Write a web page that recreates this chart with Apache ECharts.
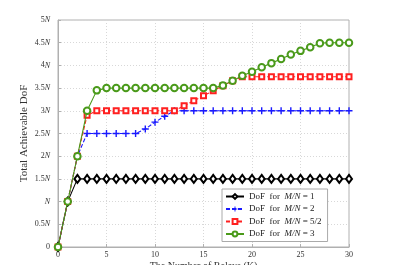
<!DOCTYPE html>
<html><head><meta charset="utf-8">
<script src="https://cdn.jsdelivr.net/npm/echarts@6/dist/echarts.min.js"></script>
<style>html,body{margin:0;padding:0;background:#fff}#c{width:393px;height:265px}</style>
</head><body><div id="c"></div>
<script>
const xValues = [0,1,2,3,4,5,6,7,8,9,10,11,12,13,14,15,16,17,18,19,20,21,22,23,24,25,26,27,28,29,30];
const dof1  = [0,1,1.5,1.5,1.5,1.5,1.5,1.5,1.5,1.5,1.5,1.5,1.5,1.5,1.5,1.5,1.5,1.5,1.5,1.5,1.5,1.5,1.5,1.5,1.5,1.5,1.5,1.5,1.5,1.5,1.5];
const dof2  = [0,1,2,2.5,2.5,2.5,2.5,2.5,2.5,2.6,2.75,2.88,3,3,3,3,3,3,3,3,3,3,3,3,3,3,3,3,3,3,3];
const dof52 = [0,1,2,2.9,3,3,3,3,3,3,3,3,3,3.11,3.22,3.33,3.44,3.55,3.66,3.75,3.75,3.75,3.75,3.75,3.75,3.75,3.75,3.75,3.75,3.75,3.75];
const dof3  = [0,1,2,3,3.45,3.5,3.5,3.5,3.5,3.5,3.5,3.5,3.5,3.5,3.5,3.5,3.5,3.56,3.66,3.77,3.86,3.96,4.05,4.14,4.24,4.32,4.4,4.49,4.5,4.5,4.5];
const yTicks = {0:'0',0.5:'0.5{i|N}',1:'{i|N}',1.5:'1.5{i|N}',2:'2{i|N}',2.5:'2.5{i|N}',3:'3{i|N}',3.5:'3.5{i|N}',4:'4{i|N}',4.5:'4.5{i|N}',5:'5{i|N}'};
const seriesNames = ['DoF for M/N = 1','DoF for M/N = 2','DoF for M/N = 5/2','DoF for M/N = 3'];
const legendRich = {'DoF for M/N = 1':'DoF  for  {i|M/N} = 1','DoF for M/N = 2':'DoF  for  {i|M/N} = 2','DoF for M/N = 5/2':'DoF  for  {i|M/N} = 5/2','DoF for M/N = 3':'DoF  for  {i|M/N} = 3'};

const font = 'Liberation Serif';
const plus = 'path://M4,0h2v4h4v2h-4v4h-2v-4h-4v-2h4z';
function pts(arr){ return xValues.map((x,i)=>[x,arr[i]]); }
const chart = echarts.init(document.getElementById('c'));
chart.setOption({
  animation:false,
  backgroundColor:'#fff',
  grid:{left:58,right:44,top:20,bottom:18,outerBoundsMode:'none',containLabel:false,show:true,borderColor:'#b0b0b0',borderWidth:1,backgroundColor:'#fff'},
  xAxis:{type:'value',min:0,max:30,interval:5,
    name:'The Number of Relays (K)',nameLocation:'middle',nameGap:14.5,nameMoveOverlap:false,
    nameTextStyle:{fontFamily:font,fontSize:10,color:'#333'},
    axisLine:{show:true,lineStyle:{color:'#b0b0b0'}},
    axisTick:{show:true,inside:true,length:3,lineStyle:{color:'#b0b0b0'}},
    axisLabel:{fontFamily:font,fontSize:8,color:'#333',margin:4},
    splitLine:{show:true,lineStyle:{color:'#d8d8d8',type:[1,2]}}},
  yAxis:{type:'value',min:0,max:5,interval:0.5,
    name:'Total Achievable DoF',nameLocation:'middle',nameGap:28,nameMoveOverlap:false,
    nameTextStyle:{fontFamily:font,fontSize:11,color:'#333'},
    axisLine:{show:true,lineStyle:{color:'#b0b0b0'}},
    axisTick:{show:true,inside:true,length:3,lineStyle:{color:'#b0b0b0'}},
    axisLabel:{fontFamily:font,fontSize:8,color:'#333',margin:8,
      formatter:v=>yTicks[v]!==undefined?yTicks[v]:String(v),
      rich:{i:{fontFamily:font,fontStyle:'italic',fontSize:8,color:'#333'}}},
    splitLine:{show:true,lineStyle:{color:'#d8d8d8',type:[1,2]}}},
  legend:{orient:'vertical',left:222,top:189,width:113,padding:[3,6,3,3],itemGap:3.5,itemWidth:18,itemHeight:6,
    backgroundColor:'#fff',borderColor:'#aaa',borderWidth:1,
    data:seriesNames,
    formatter:n=>legendRich[n],
    textStyle:{fontFamily:font,fontSize:9,color:'#222',rich:{i:{fontFamily:font,fontStyle:'italic',fontSize:9,color:'#222'}}}},
  series:[
    {name:seriesNames[0],type:'line',data:pts(dof1),symbol:'emptyDiamond',symbolSize:[6,8],
      lineStyle:{color:'#000',width:1.1},itemStyle:{color:'#000',borderWidth:1.1},z:2},
    {name:seriesNames[1],type:'line',data:pts(dof2),symbol:plus,symbolSize:7,
      lineStyle:{color:'#1a1aff',width:1.1,type:[4,2]},itemStyle:{color:'#1a1aff'},z:3},
    {name:seriesNames[2],type:'line',data:pts(dof52),symbol:'emptyRect',symbolSize:5,
      lineStyle:{color:'#ff2020',width:1.1,type:[4,2]},itemStyle:{color:'#ff2020',borderWidth:1},z:4},
    {name:seriesNames[3],type:'line',data:pts(dof3),symbol:'emptyCircle',symbolSize:6.5,
      lineStyle:{color:'#4a9a1a',width:1.1},itemStyle:{color:'#4a9a1a',borderWidth:1},z:5}
  ]
});
</script></body></html>
